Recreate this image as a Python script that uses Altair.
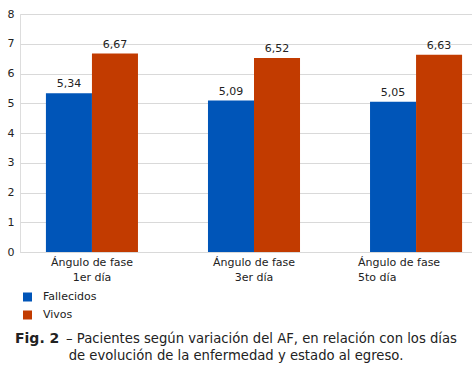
import altair as alt
import pandas as pd

categories = ["Ángulo de fase|1er día", "Ángulo de fase|3er día", "Ángulo de fase|5to día"]
series = ["Fallecidos", "Vivos"]
fallecidos = [5.34, 5.09, 5.05]
vivos = [6.67, 6.52, 6.63]
y_ticks = [0, 1, 2, 3, 4, 5, 6, 7, 8]
colors = ["#0055B8", "#C23B00"]

rows = []
for c, f, v in zip(categories, fallecidos, vivos):
    rows.append({"cat": c, "serie": "Fallecidos", "valor": f})
    rows.append({"cat": c, "serie": "Vivos", "valor": v})
df = pd.DataFrame(rows)

FONT = "DejaVu Sans"

x_enc = alt.X(
    "cat:N",
    sort=categories,
    scale=alt.Scale(range=[0, 468], paddingInner=0.432, paddingOuter=0.16),
    axis=alt.Axis(
        title=None,
        labelAngle=0,
        labelExpr="split(datum.label, '|')",
        labelFontSize=11,
        labelFont=FONT,
        labelColor="#222222",
        labelLineHeight=15,
        labelPadding=4,
        ticks=False,
        domainColor="#d9d9d9",
        labelAlign={"condition": {"test": "indexof(datum.value, '5to') >= 0", "value": "left"}, "value": "center"},
        labelOffset={"condition": {"test": "indexof(datum.value, '5to') >= 0", "value": -58}, "value": 0},
    ),
)

y_enc = alt.Y(
    "valor:Q",
    scale=alt.Scale(domain=[0, 8], nice=False),
    axis=alt.Axis(
        title=None,
        values=y_ticks,
        tickCount=20,
        format="d",
        labelOverlap=False,
        labelFontSize=11,
        labelFont=FONT,
        labelColor="#222222",
        labelPadding=6,
        ticks=False,
        domain=False,
        gridColor="#d9d9d9",
    ),
)

base = alt.Chart(df).encode(
    x=x_enc,
    y=y_enc,
    xOffset=alt.XOffset("serie:N", sort=series, scale=alt.Scale(paddingInner=0, paddingOuter=0)),
)

bars = base.mark_bar().encode(
    color=alt.Color(
        "serie:N",
        sort=series,
        scale=alt.Scale(domain=series, range=colors),
        legend=None,
    ),
)

labels = base.mark_text(baseline="bottom", dy=-4, fontSize=11, font=FONT, color="#222222").encode(
    text=alt.Text("lbl:N"),
).transform_calculate(lbl="replace(format(datum.valor, '.2f'), '.', ',')")

legend_layers = []
for i, (s, col) in enumerate(zip(series, colors)):
    yy = 283 + 18 * i
    sub = pd.DataFrame({"serie": [s]})
    legend_layers.append(
        alt.Chart(sub).mark_square(size=81, color=col, opacity=1).encode(
            x=alt.value(7.5), y=alt.value(yy)
        )
    )
    legend_layers.append(
        alt.Chart(sub).mark_text(
            fontSize=11, font=FONT, color="#222222", align="left", baseline="middle"
        ).encode(x=alt.value(23), y=alt.value(yy), text="serie:N")
    )

one = pd.DataFrame({"t": [0]})
cap_bold = alt.Chart(one).mark_text(
    text="Fig. 2", fontWeight="bold", fontSize=14, font=FONT, color="#222222", align="left", baseline="alphabetic"
).encode(x=alt.value(-5), y=alt.value(329))
cap_rest = alt.Chart(one).mark_text(
    text="– Pacientes según variación del AF, en relación con los días", fontSize=13.2, font=FONT,
    color="#222222", align="left", baseline="alphabetic"
).encode(x=alt.value(46), y=alt.value(329))
cap_line2 = alt.Chart(one).mark_text(
    text="de evolución de la enfermedad y estado al egreso.", fontSize=13.2, font=FONT,
    color="#222222", align="center", baseline="alphabetic"
).encode(x=alt.value(216), y=alt.value(346))

chart = alt.layer(bars, labels, *legend_layers, cap_bold, cap_rest, cap_line2).properties(
    width=452,
    height=238,
    autosize=alt.AutoSizeParams(type="none"),
    padding={"left": 20, "top": 14, "right": 0, "bottom": 125},
).configure_view(stroke=None).configure(background="white")

chart.save("out.html", embed_options={"renderer": "svg", "actions": False})
